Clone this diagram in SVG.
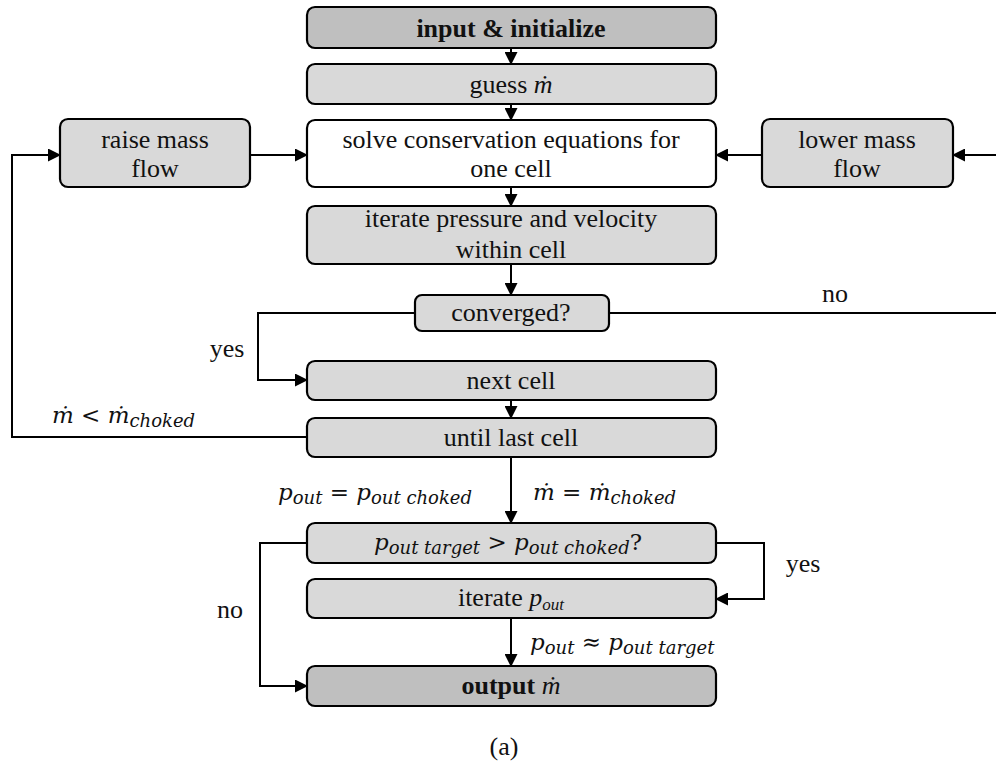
<svg xmlns="http://www.w3.org/2000/svg" width="996" height="767" viewBox="0 0 996 767">
<defs>
<marker id="ah" markerWidth="13" markerHeight="13" refX="12" refY="6.5" orient="auto" markerUnits="userSpaceOnUse">
<path d="M0,0 L13,6.5 L0,13 Z" fill="#000"/>
</marker>
<style>
.box{stroke:#000;stroke-width:2.2}
.dark{fill:#bfbfbf}
.light{fill:#d9d9d9}
.white{fill:#fff}
.t{font-family:"Liberation Serif","Times New Roman",serif;font-size:26px;fill:#111;text-anchor:middle}
.b{font-weight:bold}
.m{font-family:"DejaVu Serif","Liberation Serif",serif;font-style:italic;font-size:23px;fill:#111}
.s{font-size:18px}
.c{fill:none;stroke:#000;stroke-width:2}
</style>
</defs>
<rect width="996" height="767" fill="#fff"/>
<g id="connectors">
<line class="c" x1="511" y1="48" x2="511" y2="64" marker-end="url(#ah)"/>
<line class="c" x1="511" y1="104" x2="511" y2="120" marker-end="url(#ah)"/>
<line class="c" x1="250" y1="155" x2="307" y2="155" marker-end="url(#ah)"/>
<line class="c" x1="996" y1="155" x2="953" y2="155" marker-end="url(#ah)"/>
<line class="c" x1="762" y1="155" x2="716" y2="155" marker-end="url(#ah)"/>
<line class="c" x1="511" y1="187" x2="511" y2="206" marker-end="url(#ah)"/>
<line class="c" x1="511" y1="264" x2="511" y2="295" marker-end="url(#ah)"/>
<line class="c" x1="609" y1="313" x2="996" y2="313"/>
<polyline class="c" points="415,313 258,313 258,380 307,380" marker-end="url(#ah)"/>
<line class="c" x1="511" y1="400" x2="511" y2="418" marker-end="url(#ah)"/>
<polyline class="c" points="307,437 12,437 12,155 60,155" marker-end="url(#ah)"/>
<line class="c" x1="511" y1="457" x2="511" y2="523" marker-end="url(#ah)"/>
<polyline class="c" points="716,543 764,543 764,599 716,599" marker-end="url(#ah)"/>
<polyline class="c" points="307,543 260,543 260,686 307,686" marker-end="url(#ah)"/>
<line class="c" x1="511" y1="618" x2="511" y2="666" marker-end="url(#ah)"/>
<text class="t" x="835" y="302">no</text>
<text class="t" x="227" y="357">yes</text>
<text class="t" x="230" y="618">no</text>
<text class="t" x="803" y="572">yes</text>
<text class="m" x="52" y="423">ṁ &lt; ṁ<tspan class="s" dy="4">choked</tspan></text>
<text class="m" x="278" y="500">p<tspan class="s" dy="4">out</tspan><tspan dy="-4"> = p</tspan><tspan class="s" dy="4">out choked</tspan></text>
<text class="m" x="533" y="500">ṁ = ṁ<tspan class="s" dy="4">choked</tspan></text>
<text class="m" x="530" y="650">p<tspan class="s" dy="4">out</tspan><tspan dy="-4"> ≈ p</tspan><tspan class="s" dy="4">out target</tspan></text>
</g>
<g id="input"><rect class="box dark" x="307" y="7" width="409" height="41" rx="8"/><text class="t b" x="511" y="37">input &amp; initialize</text></g>
<g id="guess"><rect class="box light" x="307" y="64" width="409" height="40" rx="8"/><text class="t" x="511" y="93">guess <tspan font-style="italic">ṁ</tspan></text></g>
<g id="solve"><rect class="box white" x="307" y="120" width="409" height="67" rx="8"/><text class="t" x="511" y="148">solve conservation equations for</text><text class="t" x="511" y="177">one cell</text></g>
<g id="raise"><rect class="box light" x="60" y="119" width="190" height="68" rx="8"/><text class="t" x="155" y="148">raise mass</text><text class="t" x="155" y="177">flow</text></g>
<g id="lower"><rect class="box light" x="762" y="119" width="191" height="68" rx="8"/><text class="t" x="857" y="148">lower mass</text><text class="t" x="857" y="177">flow</text></g>
<g id="iterate"><rect class="box light" x="307" y="206" width="409" height="58" rx="8"/><text class="t" x="511" y="227">iterate pressure and velocity</text><text class="t" x="511" y="258">within cell</text></g>
<g id="converged"><rect class="box light" x="415" y="295" width="194" height="36" rx="7"/><text class="t" x="511" y="321">converged?</text></g>
<g id="next"><rect class="box light" x="307" y="361" width="409" height="39" rx="8"/><text class="t" x="511" y="389">next cell</text></g>
<g id="until"><rect class="box light" x="307" y="418" width="409" height="39" rx="8"/><text class="t" x="511" y="446">until last cell</text></g>
<g id="target"><rect class="box light" x="307" y="523" width="409" height="40" rx="8"/><text class="m" x="508" y="550" text-anchor="middle">p<tspan class="s" dy="4">out target</tspan><tspan dy="-4"> &gt; p</tspan><tspan class="s" dy="4">out choked</tspan><tspan dy="-4" font-style="normal">?</tspan></text></g>
<g id="iterp"><rect class="box light" x="307" y="579" width="409" height="39" rx="8"/><text class="t" x="511" y="606">iterate <tspan font-style="italic">p</tspan><tspan font-style="italic" font-size="17" dy="4">out</tspan></text></g>
<g id="output"><rect class="box dark" x="307" y="666" width="409" height="40" rx="8"/><text class="t b" x="511" y="694">output <tspan font-weight="normal" font-style="italic">ṁ</tspan></text></g>
<text class="t" x="504" y="755">(a)</text>
</svg>
